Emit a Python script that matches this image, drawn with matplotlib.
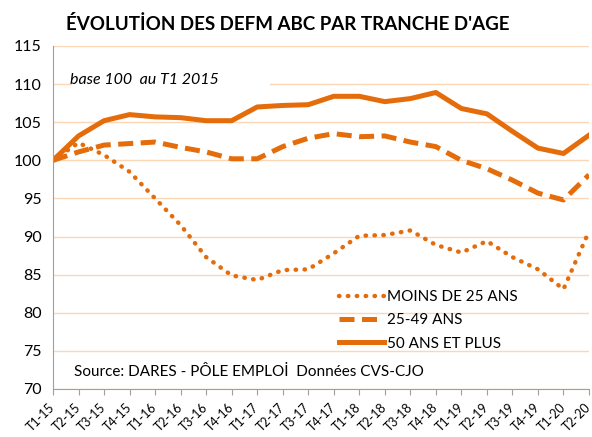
import matplotlib.pyplot as plt
from matplotlib.patches import Rectangle

quarters = ['T1-15', 'T2-15', 'T3-15', 'T4-15', 'T1-16', 'T2-16', 'T3-16', 'T4-16',
            'T1-17', 'T2-17', 'T3-17', 'T4-17', 'T1-18', 'T2-18', 'T3-18', 'T4-18',
            'T1-19', 'T2-19', 'T3-19', 'T4-19', 'T1-20', 'T2-20']

moins_25 = [100, 102.3, 100.7, 98.5, 95.0, 91.5, 87.3, 84.9, 84.3, 85.6, 85.7, 87.8,
            90.1, 90.2, 90.8, 88.9, 87.9, 89.4, 87.3, 85.7, 83.1, 90.7]
age_25_49 = [100, 101.1, 102.0, 102.2, 102.4, 101.7, 101.1, 100.2, 100.2, 101.8, 102.9, 103.5,
             103.1, 103.2, 102.4, 101.8, 100.0, 98.9, 97.4, 95.7, 94.8, 98.1]
plus_50 = [100, 103.2, 105.2, 106.0, 105.7, 105.6, 105.2, 105.2, 107.0, 107.2, 107.3, 108.4,
           108.4, 107.7, 108.1, 108.9, 106.8, 106.1, 103.8, 101.6, 100.9, 103.3]

orange = '#E46C0A'
plt.rcParams['font.family'] = ['Lato', 'DejaVu Sans']

fig = plt.figure(figsize=(5.92, 4.37), dpi=100)
ax = fig.add_axes([53 / 592, 1 - 389 / 437, 536 / 592, 343 / 437])

x = list(range(len(quarters)))
ax.plot(x, moins_25, color=orange, lw=3.2, linestyle=(0, (0.1, 1.9)),
        dash_capstyle='round', label='MOINS DE 25 ANS')
ax.plot(x, age_25_49, color=orange, lw=3.6, linestyle=(0, (3, 1.5)),
        label='25-49 ANS')
ax.plot(x, plus_50, color=orange, lw=3.6, label='50 ANS ET PLUS')

ax.set_xlim(0, len(quarters) - 1)
ax.set_ylim(70, 115)
ax.set_yticks(range(70, 116, 5))
ax.set_xticks(x)
ax.set_xticklabels(quarters, rotation=45, ha='right', va='center',
                   rotation_mode='anchor', fontsize=9)
ax.tick_params(axis='y', labelsize=11.5, length=0, pad=8)
ax.tick_params(axis='x', length=4, color='#A0A0A0', pad=8)
ax.grid(axis='y', color='#FBD7B8', lw=1)
ax.set_axisbelow(True)
for s in ['top', 'right']:
    ax.spines[s].set_visible(False)
ax.spines['left'].set_color('#A0A0A0')
ax.spines['bottom'].set_color('#A0A0A0')

fig.text(66 / 592, 1 - 24 / 437, "ÉVOLUTİON DES DEFM ABC PAR TRANCHE D'AGE",
         fontsize=13.5, fontweight='bold', va='center', ha='left')
# white text box hiding the gridline behind the note
ax.add_patch(Rectangle((0.035, 0.86), 0.37, 0.09, transform=ax.transAxes,
                       facecolor='white', edgecolor='none', zorder=1))
ax.text(0.032, 0.9, 'base 100  au T1 2015', transform=ax.transAxes, style='italic',
        fontsize=11.5, va='center', ha='left', zorder=3)
ax.text(0.04, 0.05, 'Source: DARES - PÔLE EMPLOİ  Données CVS-CJO', transform=ax.transAxes,
        fontsize=11, va='center', ha='left')

ax.legend(loc='upper left', bbox_to_anchor=(0.52, 0.31), frameon=False, fontsize=11,
          handlelength=2.9, handletextpad=0.2, labelspacing=0.6, borderpad=0)

fig.savefig('out.png', dpi=100)
